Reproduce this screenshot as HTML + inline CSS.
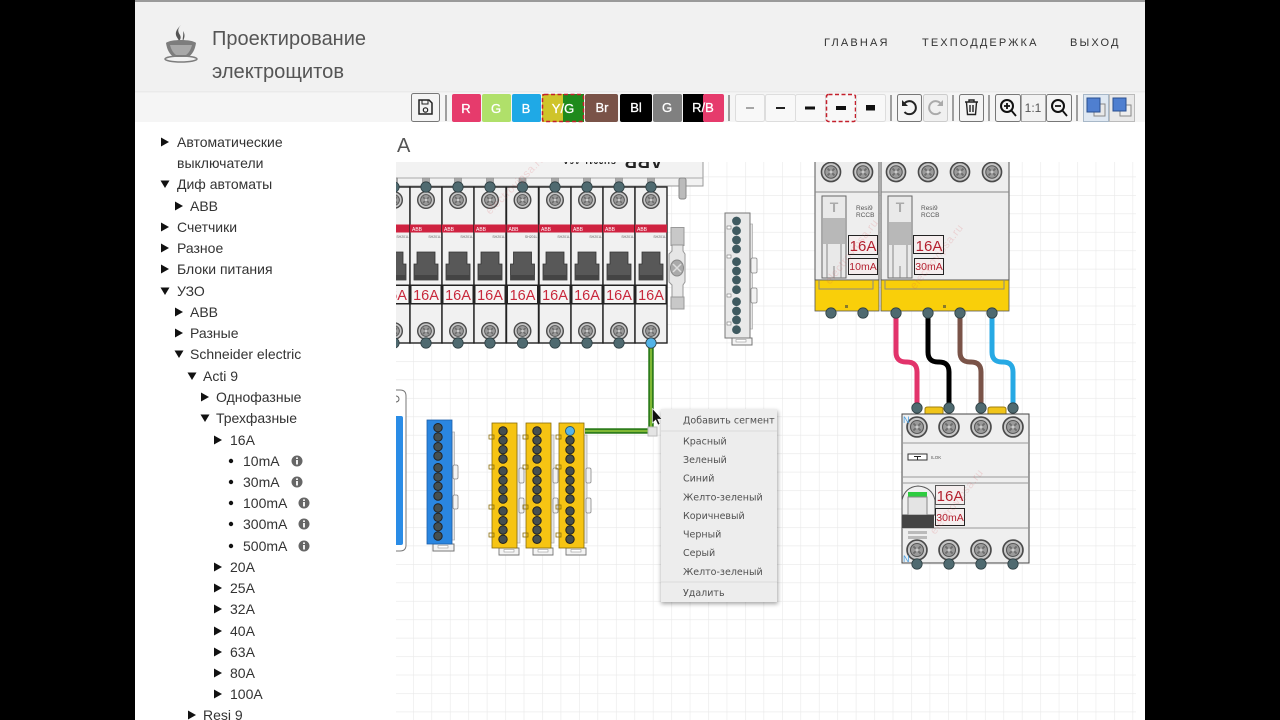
<!DOCTYPE html>
<html lang="ru"><head><meta charset="utf-8"><title>Проектирование электрощитов</title>
<style>html,body{margin:0;padding:0;background:#000;width:1280px;height:720px;overflow:hidden}svg{display:block}
text{font-family:"Liberation Sans",sans-serif}
.s text{font-size:14px;fill:#333}
.m text{font-family:"DejaVu Sans",sans-serif;font-size:9.5px;fill:#505050}
.b text{font-size:13px;fill:#fff;stroke:#fff;stroke-width:.3;text-anchor:middle;font-weight:400}
.n{font-size:11px;letter-spacing:2.6px;fill:#333}
.btn{fill:#f4f4f4;stroke:#777;stroke-width:1}
.btl{fill:#f8f8f8;stroke:#ddd;stroke-width:1}
.sep{stroke:#666;stroke-width:1.2}
.wm text{font-size:11px;fill:#d9484f;opacity:.16;letter-spacing:.5px}
</style></head><body>
<svg width="1280" height="720" viewBox="0 0 1280 720" xmlns="http://www.w3.org/2000/svg">
<defs>
<pattern id="grid" patternUnits="userSpaceOnUse" x="413" y="564" width="18.45" height="18.45"><rect width="18.45" height="18.45" fill="#fff"/><path d="M0 0H18.45M0 0V18.45" stroke="#e9e9e9" stroke-width="1.2" fill="none"/></pattern>
<clipPath id="cv"><rect x="396" y="162" width="740" height="558"/></clipPath>
<filter id="sh" x="-10%" y="-10%" width="125%" height="125%"><feGaussianBlur stdDeviation="2"/></filter>
<polygon id="tr" points="0,-4.5 8,0 0,4.5" fill="#111"/>
<polygon id="td" points="-4.5,-3.5 4.500,-3.5 0,4" fill="#111"/>
<g id="info"><circle r="5.5" fill="#666"/><rect x="-.9" y="-1" width="1.8" height="4.5" fill="#fff"/><rect x="-.9" y="-3.6" width="1.8" height="1.6" fill="#fff"/></g>
<g id="screw"><circle r="8.3" fill="#c6c6c6" stroke="#4a4a4a" stroke-width="1.4"/><circle r="5.4" fill="#9b9b9b" stroke="#555" stroke-width=".9"/><path d="M-3-3L3 3M3-3L-3 3" stroke="#6e6e6e" stroke-width="1.6"/><circle r="1.4" fill="#c9c9c9"/></g>
<circle id="nd" r="5.2" fill="#4f6a70" stroke="#2e3f43" stroke-width=".8"/>
<circle id="nb" r="4.2" fill="#454f50" stroke="#222" stroke-width="1"/>
<g id="br">
<rect x="-16" y="187" width="32" height="156" fill="#f1f1f1" stroke="#222" stroke-width="1.4"/>
<rect x="-3.5" y="178" width="7" height="9" fill="#aaa" stroke="#888" stroke-width=".6"/>
<rect x="-16" y="224.500" width="32" height="8" fill="#cf2240"/>
<text x="-14" y="231" font-size="5" fill="#fff">ABB</text>
<text x="15" y="238" font-size="3.5" fill="#666" text-anchor="end">SH201L</text>
<path d="M-9 252H9V264H12V280H-12V264H-9Z" fill="#585858" stroke="#333" stroke-width=".8"/>
<rect x="-12" y="275" width="24" height="5" fill="#444"/>
<rect x="-16" y="284.500" width="32" height="20" fill="#222"/>
<rect x="-14.500" y="286" width="29" height="17" fill="#f5f5f5"/>
<use href="#screw" y="200"/><use href="#screw" y="331"/>
</g>
<g id="busb">
<use href="#nb" y="431"/><use href="#nb" y="440.300"/><use href="#nb" y="449.700"/><use href="#nb" y="459"/><use href="#nb" y="471"/><use href="#nb" y="480.300"/><use href="#nb" y="489.700"/><use href="#nb" y="499"/><use href="#nb" y="511"/><use href="#nb" y="520.700"/><use href="#nb" y="530"/><use href="#nb" y="539.300"/>
</g>
<g id="ybar">
<rect x="14" y="435" width="3" height="108" fill="#e4e4e4" stroke="#aaa" stroke-width=".7"/>
<rect x="16" y="468" width="5" height="15" rx="1.500" fill="#f2f2f2" stroke="#888" stroke-width=".8"/>
<rect x="16" y="498" width="5" height="15" rx="1.500" fill="#f2f2f2" stroke="#888" stroke-width=".8"/>
<path d="M-4 548H16V555H-4Z" fill="#f4f4f4" stroke="#777" stroke-width=".9"/><rect x="1" y="549.500" width="10" height="2.500" fill="#fff" stroke="#999" stroke-width=".6"/>
<rect x="-11" y="423" width="25" height="125" fill="#f6c413" stroke="#8a6d0a" stroke-width=".8"/>
<rect x="-14" y="435" width="5" height="4" fill="none" stroke="#8a6d0a" stroke-width=".8"/><rect x="-14" y="465" width="5" height="4" fill="none" stroke="#8a6d0a" stroke-width=".8"/><rect x="-14" y="505" width="5" height="4" fill="none" stroke="#8a6d0a" stroke-width=".8"/><rect x="-14" y="533" width="5" height="4" fill="none" stroke="#8a6d0a" stroke-width=".8"/>
<use href="#busb"/>
</g>
</defs>

<rect x="135" y="0" width="1010" height="720" fill="#fff"/>
<rect x="135" y="0" width="1010" height="92" fill="#f1f1f1"/>
<rect x="135" y="0" width="1010" height="2" fill="#9a9a9a"/>
<rect x="135" y="92" width="1010" height="30" fill="#f5f5f5"/>
<rect x="135" y="91" width="1010" height="1.500" fill="#eaeaea"/>

<!-- logo -->
<g fill="#7d7d7d">
<path d="M181 25c-4 4-3 7-1 10 1 2 1 4-1 6-1-3-4-5-3-9 1-3 3-5 5-7zM183 31c2 3 2 6 0 10-1-2 1-6 0-10z" fill="#555"/>
<path d="M166 43c4-4 26-4 30 0-1 7-4 12-8 14h-14c-4-2-7-7-8-14z"/>
<path d="M170 45h22c-1 4-3 8-6 10h-10c-3-2-5-6-6-10z" fill="#a8a8a8"/>
<ellipse cx="181" cy="59" rx="16" ry="3" fill="none" stroke="#7d7d7d" stroke-width="1.500"/>
</g>
<text x="212" y="45" font-size="20" fill="#555" textLength="154" lengthAdjust="spacingAndGlyphs">Проектирование</text>
<text x="212" y="78" font-size="20" fill="#555" textLength="132" lengthAdjust="spacingAndGlyphs">электрощитов</text>
<text class="n" x="824" y="46" textLength="66">ГЛАВНАЯ</text>
<text class="n" x="922" y="46" textLength="117">ТЕХПОДДЕРЖКА</text>
<text class="n" x="1070" y="46" textLength="51">ВЫХОД</text>

<!-- toolbar -->
<rect class="btn" x="411.500" y="93.500" width="28" height="28" rx="2"/>
<path d="M419 100h10l3 3v11h-13z" fill="none" stroke="#222" stroke-width="1.500"/><rect x="422" y="100" width="6" height="4" fill="none" stroke="#222"/><circle cx="425.500" cy="110" r="2.200" fill="none" stroke="#222" stroke-width="1.200"/>
<path class="sep" d="M446 95V121M729 95V121M891 95V121M953 95V121M989 95V121M1077 95V121"/>
<g class="b">
<rect x="452" y="94" width="29" height="28" rx="2" fill="#e63b6c"/><text x="466" y="113">R</text>
<rect x="482" y="94" width="29" height="28" rx="2" fill="#b0e06a"/><text x="496" y="113">G</text>
<rect x="512" y="94" width="29" height="28" rx="2" fill="#1fa9e6"/><text x="526" y="113">B</text>
<rect x="542" y="94" width="21" height="28" fill="#cfc42a"/><rect x="563" y="94" width="21" height="28" fill="#1f8a1c"/>
<rect x="542.500" y="94.500" width="41" height="27" rx="2" fill="none" stroke="#c4202c" stroke-width="1.500" stroke-dasharray="4 2.500"/><text x="563" y="113">Y/G</text>
<rect x="585" y="94" width="33" height="28" rx="2" fill="#7a5348"/><text x="602" y="112">Br</text>
<rect x="620" y="94" width="32" height="28" rx="2" fill="#000"/><text x="636" y="112">Bl</text>
<rect x="653" y="94" width="29" height="28" rx="2" fill="#808080"/><text x="667" y="112">G</text>
<rect x="683" y="94" width="21" height="28" fill="#000"/><rect x="703" y="94" width="21" height="28" rx="2" fill="#e63b6c"/><text x="703" y="112">R/B</text>
</g>
<rect class="btl" x="735.500" y="94.500" width="29" height="27" rx="2"/><rect x="746" y="107.500" width="8" height="1" fill="#555"/>
<rect class="btl" x="765.500" y="94.500" width="30" height="27" rx="2"/><rect x="776" y="107" width="9" height="2" fill="#222"/>
<rect class="btl" x="795.500" y="94.500" width="30" height="27" rx="2"/><rect x="805" y="106.500" width="10" height="3" fill="#111"/>
<rect x="826.500" y="94.500" width="29" height="27" rx="2" fill="#f8f8f8" stroke="#c4202c" stroke-width="1.500" stroke-dasharray="4 2.500"/><rect x="836" y="106" width="10" height="4" fill="#111"/>
<rect class="btl" x="856.500" y="94.500" width="29" height="27" rx="2"/><rect x="866" y="105" width="9" height="5.500" fill="#111"/>
<rect class="btn" x="897.500" y="94.500" width="24" height="27" rx="2"/>
<path d="M904 104a6.500 6.500 0 1 1 .5 8" fill="none" stroke="#222" stroke-width="2"/><path d="M902 100v6h6z" fill="#222"/>
<rect x="923.500" y="94.500" width="24" height="27" rx="2" fill="#f0f0f0" stroke="#ccc"/>
<path d="M941 104a6.500 6.500 0 1 0 -.5 8" fill="none" stroke="#aaa" stroke-width="2"/><path d="M943 100v6h-6z" fill="#aaa"/>
<rect class="btn" x="959.500" y="94.500" width="24" height="27" rx="2"/>
<path d="M965 102h13M969 102v-2h5v2M966.500 102.500l1 12h8l1-12M970 105v7M973 105v7" fill="none" stroke="#222" stroke-width="1.400"/>
<rect class="btn" x="995.500" y="94.500" width="25" height="27" rx="2"/>
<circle cx="1007" cy="106" r="6" fill="none" stroke="#111" stroke-width="2"/><path d="M1011 110l5 6M1004 106h6M1007 103v6" stroke="#111" stroke-width="1.800"/>
<rect x="1021.500" y="94.500" width="24" height="27" fill="#f2f2f2" stroke="#aaa"/><text x="1033" y="112" font-size="12" fill="#555" text-anchor="middle">1:1</text>
<rect class="btn" x="1046.500" y="94.500" width="25" height="27" rx="2"/>
<circle cx="1058" cy="106" r="6" fill="none" stroke="#111" stroke-width="2"/><path d="M1062 110l5 6M1055 106h6" stroke="#111" stroke-width="1.800"/>
<rect x="1083.500" y="94.500" width="25" height="27" fill="#dfe8f2" stroke="#a8b8c8"/>
<rect x="1094" y="104" width="11" height="12" fill="#e8e8e8" stroke="#888"/><rect x="1087" y="98" width="13" height="14" fill="#4f7fd0" stroke="#2a4f90"/>
<rect x="1109.500" y="94.500" width="25" height="27" fill="#e9e9e9" stroke="#bbb"/>
<rect x="1120" y="105" width="11" height="11" fill="#eee" stroke="#888"/><rect x="1113" y="98" width="13" height="13" fill="#4f7fd0" stroke="#2a4f90"/>

<!-- sidebar -->
<g class="s">
<use href="#tr" x="161" y="142"/><text x="177" y="147">Автоматические</text>
<text x="177" y="168">выключатели</text>
<use href="#td" x="165" y="184"/><text x="177" y="189">Диф автоматы</text>
<use href="#tr" x="175" y="206"/><text x="190" y="211">ABB</text>
<use href="#tr" x="161" y="227"/><text x="177" y="232">Счетчики</text>
<use href="#tr" x="161" y="248"/><text x="177" y="253">Разное</text>
<use href="#tr" x="161" y="269"/><text x="177" y="274">Блоки питания</text>
<use href="#td" x="165" y="291"/><text x="177" y="296">УЗО</text>
<use href="#tr" x="175" y="312"/><text x="190" y="317">ABB</text>
<use href="#tr" x="175" y="333"/><text x="190" y="338">Разные</text>
<use href="#td" x="179" y="354"/><text x="190" y="359">Schneider electric</text>
<use href="#td" x="192" y="376"/><text x="203" y="381">Acti 9</text>
<use href="#tr" x="201" y="397"/><text x="216" y="402">Однофазные</text>
<use href="#td" x="205" y="418"/><text x="216" y="423">Трехфазные</text>
<use href="#tr" x="214" y="440"/><text x="230" y="445">16A</text>
<circle cx="231" cy="461" r="2.200" fill="#111"/><text x="243" y="466">10mA</text><use href="#info" x="297" y="461"/>
<circle cx="231" cy="482" r="2.200" fill="#111"/><text x="243" y="487">30mA</text><use href="#info" x="297" y="482"/>
<circle cx="231" cy="503" r="2.200" fill="#111"/><text x="243" y="508">100mA</text><use href="#info" x="304" y="503"/>
<circle cx="231" cy="524" r="2.200" fill="#111"/><text x="243" y="529">300mA</text><use href="#info" x="304" y="524"/>
<circle cx="231" cy="546" r="2.200" fill="#111"/><text x="243" y="551">500mA</text><use href="#info" x="304" y="546"/>
<use href="#tr" x="214" y="567"/><text x="230" y="572">20A</text>
<use href="#tr" x="214" y="588"/><text x="230" y="593">25A</text>
<use href="#tr" x="214" y="609"/><text x="230" y="614">32A</text>
<use href="#tr" x="214" y="631"/><text x="230" y="636">40A</text>
<use href="#tr" x="214" y="652"/><text x="230" y="657">63A</text>
<use href="#tr" x="214" y="673"/><text x="230" y="678">80A</text>
<use href="#tr" x="214" y="694"/><text x="230" y="699">100A</text>
<use href="#tr" x="188" y="715"/><text x="203" y="720">Resi 9</text>
</g>

<text x="397" y="152" font-size="20" fill="#555">А</text>

<!-- canvas -->
<rect x="396" y="162" width="740" height="558" fill="url(#grid)"/>
<g clip-path="url(#cv)">
<!-- top busbar -->
<rect x="380" y="150" width="323" height="36" fill="#f2f2f2" stroke="#999"/>
<path d="M380 178H703" stroke="#aaa"/>
<rect x="679" y="178" width="7" height="21" rx="2" fill="#bbb" stroke="#888"/>
<text transform="translate(663,155) rotate(180)" font-size="18" fill="#222" font-weight="700">ABB</text>
<text transform="translate(616,158) rotate(180)" font-size="8" fill="#222" font-weight="700" textLength="53">SH201L 16A</text>
<!-- breakers -->
<use href="#br" x="394"/><use href="#br" x="426"/><use href="#br" x="458"/><use href="#br" x="490"/><use href="#br" x="522.500"/><use href="#br" x="555"/><use href="#br" x="587"/><use href="#br" x="619"/><use href="#br" x="651"/>
<g fill="#c8283c" font-size="14.500" text-anchor="middle">
<text x="394" y="300">16A</text><text x="426" y="300">16A</text><text x="458" y="300">16A</text><text x="490" y="300">16A</text><text x="522.500" y="300">16A</text><text x="555" y="300">16A</text><text x="587" y="300">16A</text><text x="619" y="300">16A</text><text x="651" y="300">16A</text>
</g>
<g>
<use href="#nd" x="394" y="187"/><use href="#nd" x="426" y="187"/><use href="#nd" x="458" y="187"/><use href="#nd" x="490" y="187"/><use href="#nd" x="522.500" y="187"/><use href="#nd" x="555" y="187"/><use href="#nd" x="587" y="187"/><use href="#nd" x="619" y="187"/><use href="#nd" x="651" y="187"/>
<use href="#nd" x="394" y="343"/><use href="#nd" x="426" y="343"/><use href="#nd" x="458" y="343"/><use href="#nd" x="490" y="343"/><use href="#nd" x="522.500" y="343"/><use href="#nd" x="555" y="343"/><use href="#nd" x="587" y="343"/><use href="#nd" x="619" y="343"/>
</g>
<!-- din clip -->
<rect x="671" y="227.500" width="13" height="18" fill="#c8c8c8" stroke="#999"/>
<rect x="671" y="297" width="13" height="12" fill="#c8c8c8" stroke="#999"/>
<path d="M672 245h11v6l2 3v28l-2 3v12h-11v-12l-3-3v-28l3-3z" fill="#e6e6e6" stroke="#999"/>
<ellipse cx="677" cy="268" rx="6.500" ry="8" fill="#aaa" stroke="#888"/><path d="M673 272l8-8M673 264l8 8" stroke="#ddd" stroke-width="1.500"/>
<!-- grey bar -->
<rect x="750" y="224" width="2.500" height="105" fill="#e4e4e4" stroke="#aaa" stroke-width=".7"/>
<rect x="751" y="258" width="6" height="15" rx="1.500" fill="#f2f2f2" stroke="#888" stroke-width=".8"/>
<rect x="751" y="288" width="6" height="15" rx="1.500" fill="#f2f2f2" stroke="#888" stroke-width=".8"/>
<path d="M732 338H752V345H732Z" fill="#f4f4f4" stroke="#777"/><rect x="736" y="339.500" width="10" height="2.500" fill="#fff" stroke="#999" stroke-width=".6"/>
<rect x="725" y="213" width="25" height="125" fill="#e9e9e9" stroke="#777"/>
<rect x="727" y="226" width="4" height="3" fill="#fff" stroke="#777" stroke-width=".6"/><rect x="727" y="255" width="4" height="3" fill="#fff" stroke="#777" stroke-width=".6"/><rect x="727" y="294" width="4" height="3" fill="#fff" stroke="#777" stroke-width=".6"/><rect x="727" y="322" width="4" height="3" fill="#fff" stroke="#777" stroke-width=".6"/>
<g fill="#3f5a60"><circle cx="736.500" cy="221" r="4.400"/><circle cx="736.500" cy="230.700" r="4.400"/><circle cx="736.500" cy="240" r="4.400"/><circle cx="736.500" cy="249" r="4.400"/><circle cx="736.500" cy="261.700" r="4.400"/><circle cx="736.500" cy="271" r="4.400"/><circle cx="736.500" cy="280" r="4.400"/><circle cx="736.500" cy="289.700" r="4.400"/><circle cx="736.500" cy="301.700" r="4.400"/><circle cx="736.500" cy="311" r="4.400"/><circle cx="736.500" cy="320" r="4.400"/><circle cx="736.500" cy="329.700" r="4.400"/></g>
<!-- left cut device -->
<path d="M380 390H400Q406 390 406 396V545Q406 551 400 551H380Z" fill="#fff" stroke="#777"/>
<rect x="380" y="416" width="23" height="129" rx="2" fill="#2a8ce6"/>
<circle cx="396" cy="399" r="3" fill="none" stroke="#666"/>
<!-- blue bar -->
<rect x="452" y="432" width="2.500" height="108" fill="#e4e4e4" stroke="#aaa" stroke-width=".7"/>
<rect x="453" y="465" width="5" height="14" rx="1.500" fill="#f2f2f2" stroke="#888" stroke-width=".8"/>
<rect x="453" y="495" width="5" height="14" rx="1.500" fill="#f2f2f2" stroke="#888" stroke-width=".8"/>
<path d="M433 544H454V551H433Z" fill="#f4f4f4" stroke="#777"/><rect x="438" y="545.500" width="10" height="2.500" fill="#fff" stroke="#999" stroke-width=".6"/>
<rect x="427" y="420" width="25" height="124" fill="#2a86e0" stroke="#1c5ea8" stroke-width=".8"/>
<g fill="#454f50" stroke="#222"><circle cx="438" cy="427.700" r="4.200"/><circle cx="438" cy="437" r="4.200"/><circle cx="438" cy="446.700" r="4.200"/><circle cx="438" cy="456" r="4.200"/><circle cx="438" cy="467.700" r="4.200"/><circle cx="438" cy="477" r="4.200"/><circle cx="438" cy="486.300" r="4.200"/><circle cx="438" cy="496" r="4.200"/><circle cx="438" cy="508" r="4.200"/><circle cx="438" cy="517.300" r="4.200"/><circle cx="438" cy="526.700" r="4.200"/><circle cx="438" cy="536" r="4.200"/></g>
<!-- yellow bars -->
<use href="#ybar" x="503"/><use href="#ybar" x="537"/><use href="#ybar" x="570"/>
<circle cx="570" cy="431" r="4.500" fill="#55b4ea" stroke="#2f5f70"/>
<!-- green wire -->
<path d="M651 343V431H585" fill="none" stroke="#2f7d1c" stroke-width="5.500"/>
<path d="M651 343V431H585" fill="none" stroke="#9acb3c" stroke-width="1.500"/>
<circle cx="651" cy="343" r="5.200" fill="#52b3e8" stroke="#2e3f43" stroke-width=".8"/>
<rect x="648" y="427" width="9" height="9" fill="#e4e4e4" stroke="#bbb"/>

<!-- RCCB -->
<rect x="815" y="150" width="64" height="130" fill="#eeeeee" stroke="#555"/>
<rect x="815" y="280" width="64" height="31" fill="#f9cf0a" stroke="#555" stroke-width=".8"/>
<rect x="881" y="150" width="128" height="130" fill="#eeeeee" stroke="#555"/>
<rect x="881" y="280" width="128" height="31" fill="#f9cf0a" stroke="#555" stroke-width=".8"/>
<path d="M815 192H879M881 192H1009M819 280v9h54v-9M885 280v9h119v-9" stroke="#888" fill="none"/>
<use href="#screw" transform="translate(831,172) scale(1.150)"/><use href="#screw" transform="translate(863,172) scale(1.150)"/><use href="#screw" transform="translate(896,172) scale(1.150)"/><use href="#screw" transform="translate(928,172) scale(1.150)"/><use href="#screw" transform="translate(960,172) scale(1.150)"/><use href="#screw" transform="translate(992,172) scale(1.150)"/>
<rect x="822" y="196" width="24" height="82" fill="#e9e9e9" stroke="#666"/><rect x="823" y="218" width="22" height="26" fill="#b8b8b8"/>
<rect x="888" y="196" width="24" height="82" fill="#e9e9e9" stroke="#666"/><rect x="889" y="222" width="22" height="23" fill="#b8b8b8"/>
<text x="834" y="212" font-size="14" fill="#aaa" text-anchor="middle" font-weight="700">T</text>
<text x="900" y="212" font-size="14" fill="#aaa" text-anchor="middle" font-weight="700">T</text>
<path d="M827 278V244M841 278V244M893 278V245M907 278V245M834 266v12M900 266v12" stroke="#888" fill="none"/>
<g font-size="6.500" fill="#555"><text x="856" y="210">Resi9</text><text x="856" y="217">RCCB</text><text x="921" y="210">Resi9</text><text x="921" y="217">RCCB</text></g>
<rect x="848.500" y="235.500" width="29" height="19" fill="#f5eeee" stroke="#222"/><text x="863" y="251" font-size="15" fill="#b3202f" text-anchor="middle">16A</text>
<rect x="848.500" y="258.500" width="29" height="16" fill="#f5eeee" stroke="#222"/><text x="863" y="270" font-size="10.500" fill="#b3202f" text-anchor="middle">10mA</text>
<rect x="913.500" y="235.500" width="30" height="18" fill="#f5eeee" stroke="#222"/><text x="929" y="251" font-size="15" fill="#b3202f" text-anchor="middle">16A</text>
<rect x="914.500" y="258.500" width="29" height="16" fill="#f5eeee" stroke="#222"/><text x="929" y="270" font-size="10.500" fill="#b3202f" text-anchor="middle">30mA</text>
<rect x="845" y="305" width="3" height="3" fill="#8a7a2a"/><rect x="943" y="305" width="3" height="3" fill="#8a7a2a"/>
<!-- wires -->
<g fill="none" stroke-width="5">
<path d="M896 313V352Q896 362 906 362H907Q917 362 917 372V408" stroke="#e2336b"/>
<path d="M928 313V352Q928 362 938 362H939Q949 362 949 372V408" stroke="#000"/>
<path d="M960 313V352Q960 362 970 362H971Q981 362 981 372V408" stroke="#7a5348"/>
<path d="M992 313V352Q992 362 1002 362H1003Q1013 362 1013 372V408" stroke="#27a9e4"/>
</g>
<use href="#nd" x="831" y="313"/><use href="#nd" x="863" y="313"/><use href="#nd" x="896" y="313"/><use href="#nd" x="928" y="313"/><use href="#nd" x="960" y="313"/><use href="#nd" x="992" y="313"/>
<!-- RCD -->
<path d="M925 414v-5q0-2 3-2h12q3 0 3 2v5M988 414v-5q0-2 3-2h12q3 0 3 2v5" fill="#f0c419" stroke="#a08010"/>
<rect x="902" y="414" width="127" height="149" fill="#efefef" stroke="#444"/>
<path d="M902 443H1029M902 477H1029M902 483H1029M902 528H1029" stroke="#999" fill="none"/>
<use href="#screw" transform="translate(917,427) scale(1.200)"/><use href="#screw" transform="translate(949,427) scale(1.200)"/><use href="#screw" transform="translate(981,427) scale(1.200)"/><use href="#screw" transform="translate(1013,427) scale(1.200)"/>
<use href="#screw" transform="translate(917,550) scale(1.200)"/><use href="#screw" transform="translate(949,550) scale(1.200)"/><use href="#screw" transform="translate(981,550) scale(1.200)"/><use href="#screw" transform="translate(1013,550) scale(1.200)"/>
<rect x="908" y="454" width="19" height="6" fill="#fff" stroke="#333"/><path d="M914 456.500h7M917.500 456.500v3" stroke="#222"/>
<text x="931" y="459" font-size="4.500" fill="#555">ILOK</text>
<text x="903" y="423" font-size="9" fill="#4a9fe0">N</text><text x="903" y="562" font-size="9" fill="#4a9fe0">N</text>
<path d="M902 515V500Q905 487 918 486Q932 487 935 500V515Z" fill="#f0f0f0" stroke="#555"/>
<rect x="908" y="492" width="19" height="5" fill="#2ecc40"/><rect x="908" y="497" width="19" height="18" fill="#e4e4e4" stroke="#888"/>
<rect x="902" y="515" width="32" height="13" fill="#444"/>
<rect x="908" y="531" width="19" height="3" fill="#bbb"/><rect x="908" y="536" width="19" height="3" fill="#bbb"/>
<rect x="935.500" y="485.500" width="29" height="19" fill="#f5eeee" stroke="#555"/><text x="950" y="501" font-size="15" fill="#b3202f" text-anchor="middle">16A</text>
<rect x="935.500" y="508.500" width="29" height="17" fill="#f5eeee" stroke="#222"/><text x="950" y="521" font-size="10.500" fill="#b3202f" text-anchor="middle">30mA</text>
<use href="#nd" x="917" y="408"/><use href="#nd" x="949" y="408"/><use href="#nd" x="981" y="408"/><use href="#nd" x="1013" y="408"/>
<use href="#nd" x="917" y="564"/><use href="#nd" x="949" y="564"/><use href="#nd" x="981" y="564"/><use href="#nd" x="1013" y="564"/>
<!-- watermarks -->
<g class="wm">
<text transform="translate(830,285) rotate(-52)">electrovipsa.ru</text>
<text transform="translate(915,290) rotate(-52)">electrovipsa.ru</text>
<text transform="translate(935,535) rotate(-52)">electrovipsa.ru</text>
<text transform="translate(490,215) rotate(-45)">electrovipsa.ru</text>
</g>
</g>

<!-- context menu -->
<rect x="661" y="411" width="117" height="193" fill="#000" opacity=".35" filter="url(#sh)"/>
<rect x="661" y="409" width="116" height="193" fill="#ededed"/>
<path d="M661 431H777M661 582H777" stroke="#dcdcdc"/>
<g class="m">
<text x="683" y="423.500">Добавить сегмент</text>
<text x="683" y="444.500">Красный</text>
<text x="683" y="463">Зеленый</text>
<text x="683" y="481.500">Синий</text>
<text x="683" y="500.500">Желто-зеленый</text>
<text x="683" y="519">Коричневый</text>
<text x="683" y="537.500">Черный</text>
<text x="683" y="556">Серый</text>
<text x="683" y="575">Желто-зеленый</text>
<text x="683" y="596">Удалить</text>
</g>
<path d="M652.500 408.500V423l3.200-3 2.300 5 2-1-2.300-4.800 4.300-.2z" fill="#111" stroke="#fff" stroke-width=".6"/>
</svg>
</body></html>
